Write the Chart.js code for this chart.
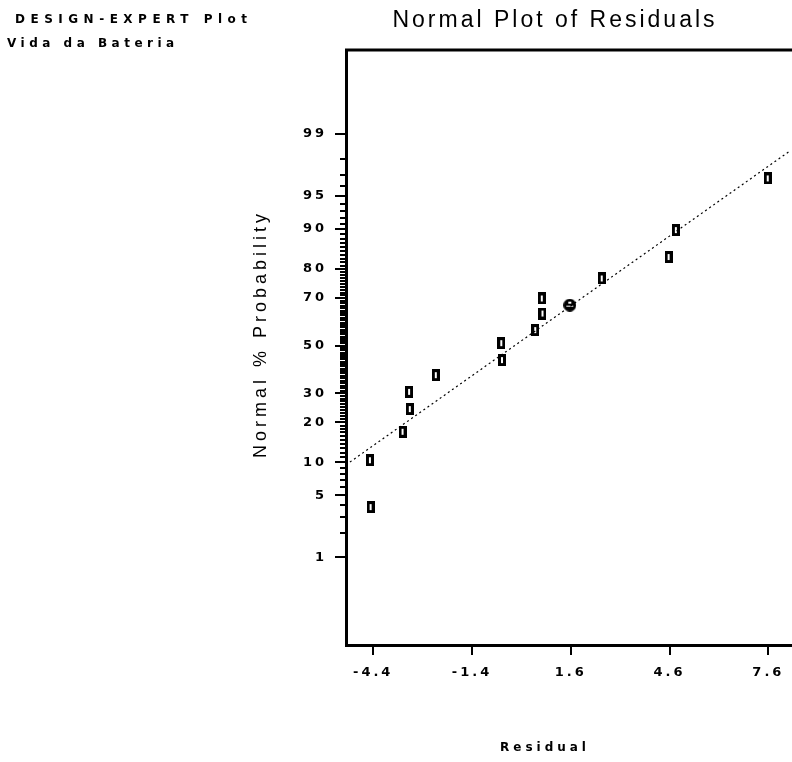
<!DOCTYPE html>
<html>
<head>
<meta charset="utf-8">
<title>Normal Plot of Residuals</title>
<script src="https://cdn.jsdelivr.net/npm/chart.js@4.4.0/dist/chart.umd.min.js"></script>
<style>
  html, body { margin: 0; padding: 0; background: #fff; overflow: hidden; }
  #wrap { position: relative; width: 860px; height: 762px; }
</style>
</head>
<body>
<div id="wrap"><canvas id="chart" width="860" height="762"></canvas></div>
<script>
// values (residual, normal % probability)
const residuals = [-4.48, -4.50, -3.51, -3.29, -3.31, -2.50, -0.49, -0.51, 0.52, 0.74, 0.72, 2.54, 4.57, 4.79, 7.58];
const normalPct = [3.8, 10.4, 17.2, 24.3, 30.6, 37.3, 43.7, 51.1, 56.8, 63.8, 69.8, 77.0, 83.5, 89.8, 96.7];
const groupedResidual = [1.57];
const groupedPct = [67.2];
const fitResidual = [-5.23, 8.27];
const fitPct = [9.5, 98.4];
const xTicks = [-4.4, -1.4, 1.6, 4.6, 7.6];
const yTickPct = [1, 5, 10, 20, 30, 50, 70, 80, 90, 95, 99];

// inverse normal cdf (Acklam) so the y axis is a probability scale
function probit(p) {
  const a = [-39.69683028665376, 220.9460984245205, -275.9285104469687, 138.3577518672690, -30.66479806614716, 2.506628277459239];
  const b = [-54.47609879822406, 161.5858368580409, -155.6989798598866, 66.80131188771972, -13.28068155288572];
  const c = [-0.007784894002430293, -0.3223964580411365, -2.400758277161838, -2.549732539343734, 4.374664141464968, 2.938163982698783];
  const d = [0.007784695709041462, 0.3224671290700398, 2.445134137142996, 3.754408661907416];
  const pl = 0.02425;
  let q, r;
  if (p < pl) {
    q = Math.sqrt(-2 * Math.log(p));
    return (((((c[0]*q+c[1])*q+c[2])*q+c[3])*q+c[4])*q+c[5]) / ((((d[0]*q+d[1])*q+d[2])*q+d[3])*q+1);
  }
  if (p > 1 - pl) {
    q = Math.sqrt(-2 * Math.log(1 - p));
    return -(((((c[0]*q+c[1])*q+c[2])*q+c[3])*q+c[4])*q+c[5]) / ((((d[0]*q+d[1])*q+d[2])*q+d[3])*q+1);
  }
  q = p - 0.5; r = q * q;
  return (((((a[0]*r+a[1])*r+a[2])*r+a[3])*r+a[4])*r+a[5])*q / (((((b[0]*r+b[1])*r+b[2])*r+b[3])*r+b[4])*r+1);
}

function toPoints(xs, ps) {
  return xs.map((x, i) => ({ x: x, y: probit(ps[i] / 100) }));
}

// tall square markers like the original plot
function rectMarker() {
  const c = document.createElement("canvas");
  c.width = 8; c.height = 12;
  const g = c.getContext("2d");
  g.fillStyle = "#000";
  g.fillRect(0, 0, 8, 12);
  g.fillStyle = "#fff";
  g.fillRect(3, 3, 2, 6);
  return c;
}

function circleMarker() {
  const c = document.createElement("canvas");
  c.width = 13; c.height = 13;
  const g = c.getContext("2d");
  g.fillStyle = "#000";
  g.beginPath();
  g.arc(6.5, 6.5, 6.5, 0, Math.PI * 2);
  g.fill();
  g.fillStyle = "#fff";
  g.fillRect(5, 3, 3, 2);
  g.fillRect(3, 7, 7, 1);
  return c;
}

const frame = {
  id: "frame",
  beforeDraw(chart) {
    chart.ctx.letterSpacing = "3px";
  },
  afterDraw(chart) {
    const ctx = chart.ctx;
    const area = chart.chartArea;
    const y = chart.scales.y;
    ctx.save();
    ctx.strokeStyle = "#000";

    // top of the frame
    ctx.lineWidth = 3;
    ctx.beginPath();
    ctx.moveTo(area.left - 1, area.top);
    ctx.lineTo(area.right, area.top);
    ctx.stroke();

    // minor ticks every 1 %
    ctx.lineWidth = 2;
    for (let p = 1; p <= 99; p++) {
      if (yTickPct.includes(p)) continue;
      const py = Math.round(y.getPixelForValue(probit(p / 100)));
      ctx.beginPath();
      ctx.moveTo(area.left - 6, py);
      ctx.lineTo(area.left, py);
      ctx.stroke();
    }

    ctx.fillStyle = "#000";
    ctx.textBaseline = "middle";
    ctx.textAlign = "left";
    ctx.letterSpacing = "5.5px";
    ctx.font = "bold 12px 'DejaVu Sans'";
    ctx.fillText("DESIGN-EXPERT Plot", 15, 20);
    ctx.letterSpacing = "4.5px";
    ctx.fillText("Vida da Bateria", 7, 44);
    ctx.letterSpacing = "4px";
    ctx.fillText("Residual", 500, 748);

    ctx.letterSpacing = "4px";
    ctx.font = "18px 'Liberation Sans'";
    ctx.translate(261, 334);
    ctx.rotate(-Math.PI / 2);
    ctx.textAlign = "center";
    ctx.fillText("Normal % Probability", 0, 0);
    ctx.restore();
  }
};

const tickFont = { family: "DejaVu Sans", size: 13, weight: "bold" };

new Chart(document.getElementById("chart"), {
  type: "scatter",
  data: {
    datasets: [
      {
        type: "line",
        data: toPoints(fitResidual, fitPct),
        borderColor: "#000",
        borderWidth: 1.2,
        borderDash: [2, 3],
        pointRadius: 0,
        fill: false
      },
      {
        data: toPoints(residuals, normalPct),
        pointStyle: rectMarker(),
        pointRadius: 6
      },
      {
        data: toPoints(groupedResidual, groupedPct),
        pointStyle: circleMarker(),
        pointRadius: 7
      }
    ]
  },
  options: {
    responsive: false,
    animation: false,
    layout: { padding: { left: 250, right: 0, top: 0, bottom: 0 } },
    plugins: {
      legend: { display: false },
      tooltip: { enabled: false },
      title: {
        display: true,
        text: "Normal Plot of Residuals",
        color: "#000",
        font: { family: "Liberation Sans", size: 23, weight: "normal", lineHeight: 1.2 },
        padding: { top: 7, bottom: 15.4 }
      }
    },
    scales: {
      x: {
        type: "linear",
        min: -5.226,
        max: 10.14,
        afterFit: s => { s.height = 117; },
        afterBuildTicks: s => { s.ticks = xTicks.map(v => ({ value: v })); },
        grid: { drawOnChartArea: false, drawTicks: true, tickLength: 10, color: "#000", lineWidth: 2 },
        border: { display: true, color: "#000", width: 3 },
        ticks: {
          color: "#000",
          font: tickFont,
          padding: 10,
          maxRotation: 0,
          callback: (v, i) => xTicks[i].toFixed(1)
        }
      },
      y: {
        type: "linear",
        min: -3.29,
        max: 3.25,
        afterFit: s => { s.width = 96; },
        afterBuildTicks: s => { s.ticks = yTickPct.map(p => ({ value: probit(p / 100) })); },
        grid: { drawOnChartArea: false, drawTicks: true, tickLength: 11, color: "#000", lineWidth: 2 },
        border: { display: true, color: "#000", width: 3 },
        ticks: {
          color: "#000",
          font: tickFont,
          padding: 8,
          callback: (v, i) => String(yTickPct[i])
        }
      }
    }
  },
  plugins: [frame]
});
</script>
</body>
</html>
